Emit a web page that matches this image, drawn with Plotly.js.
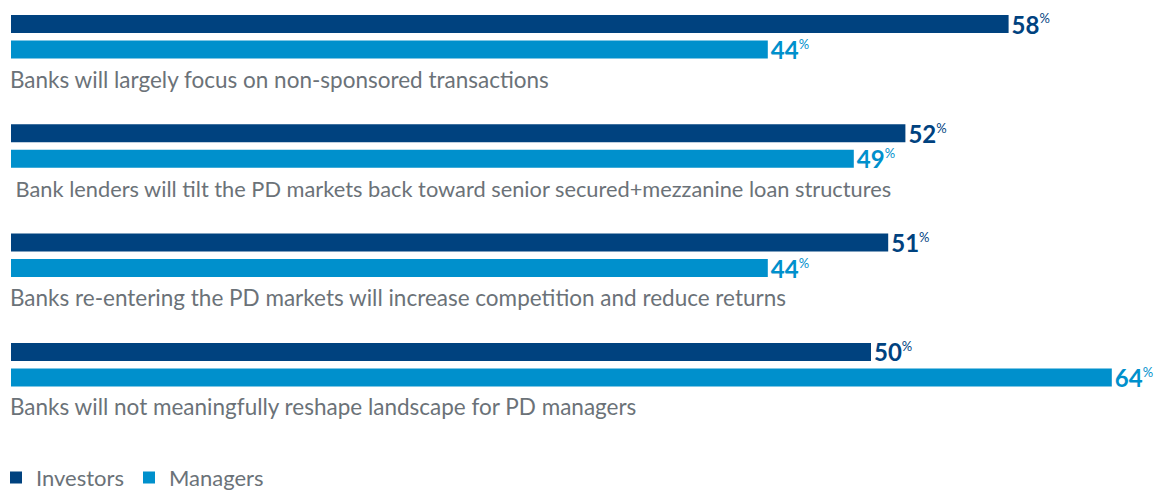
<!DOCTYPE html>
<html>
<head>
<meta charset="utf-8">
<script src="https://cdn.plot.ly/plotly-3.0.1.min.js"></script>
<style>html,body{margin:0;padding:0;background:#fff}#chart{width:1155px;height:490px}</style>
</head>
<body>
<div id="chart"></div>
<script>
const categories = [
  "Banks will largely focus on non-sponsored transactions",
  " Bank lenders will tilt the PD markets back toward senior secured+mezzanine loan structures",
  "Banks re-entering the PD markets will increase competition and reduce returns",
  "Banks will not meaningfully reshape landscape for PD managers"
];
const investors = [58, 52, 51, 50];
const managers = [44, 49, 44, 64];
const seriesNames = ["Investors", "Managers"];

const NAVY = "#00427f";
const BLUE = "#0090cc";
const GRAY = "#6b7278";
const FONT = "Lato, 'Open Sans', sans-serif";
const LABEL_SIZES = [22.5, 21.8, 22.5, 22.5];

const GROUP = 109.3, INV_OFF = 24, MAN_OFF = 49.5, LAB_OFF = 79;
const idx = categories.map((_, i) => i);

function lbl(v){ return "<b>" + v + "</b><sup><span style='font-size:13px'>%</span></sup>"; }

const traces = [
  {
    type: "bar", orientation: "h", name: seriesNames[0],
    x: investors, y: idx.map(i => INV_OFF + i * GROUP), width: 18,
    marker: {color: NAVY},
    text: investors.map(lbl), textposition: "outside", cliponaxis: false,
    constraintext: "none",
    textfont: {color: NAVY, size: 24, family: FONT},
    hoverinfo: "x+name"
  },
  {
    type: "bar", orientation: "h", name: seriesNames[1],
    x: managers, y: idx.map(i => MAN_OFF + i * GROUP), width: 18,
    marker: {color: BLUE},
    text: managers.map(lbl), textposition: "outside", cliponaxis: false,
    constraintext: "none",
    textfont: {color: BLUE, size: 24, family: FONT},
    hoverinfo: "x+name"
  }
];

const annotations = categories.map((c, i) => ({
  x: 0, y: LAB_OFF + i * GROUP, xref: "x", yref: "y", xshift: -3,
  text: c, showarrow: false, xanchor: "left", yanchor: "middle",
  font: {family: FONT, size: LABEL_SIZES[i], color: GRAY}
}));

const layout = {
  width: 1155, height: 490,
  margin: {l: 11, r: 0, t: 0, b: 0, autoexpand: false},
  paper_bgcolor: "#fff", plot_bgcolor: "#fff",
  barmode: "overlay",
  xaxis: {range: [0, 1144 / 17.2], visible: false, fixedrange: true},
  yaxis: {range: [490, 0], visible: false, fixedrange: true},
  showlegend: true,
  legend: {
    orientation: "h", x: -15 / 1144, xanchor: "left", y: -0.018, yanchor: "bottom",
    xref: "paper", yref: "paper",
    font: {family: FONT, size: 22, color: GRAY},
    traceorder: "normal", itemwidth: 30
  },
  annotations: annotations,
  font: {family: FONT}
};

Plotly.newPlot("chart", traces, layout, {displayModeBar: false, staticPlot: true});
</script>
</body>
</html>
